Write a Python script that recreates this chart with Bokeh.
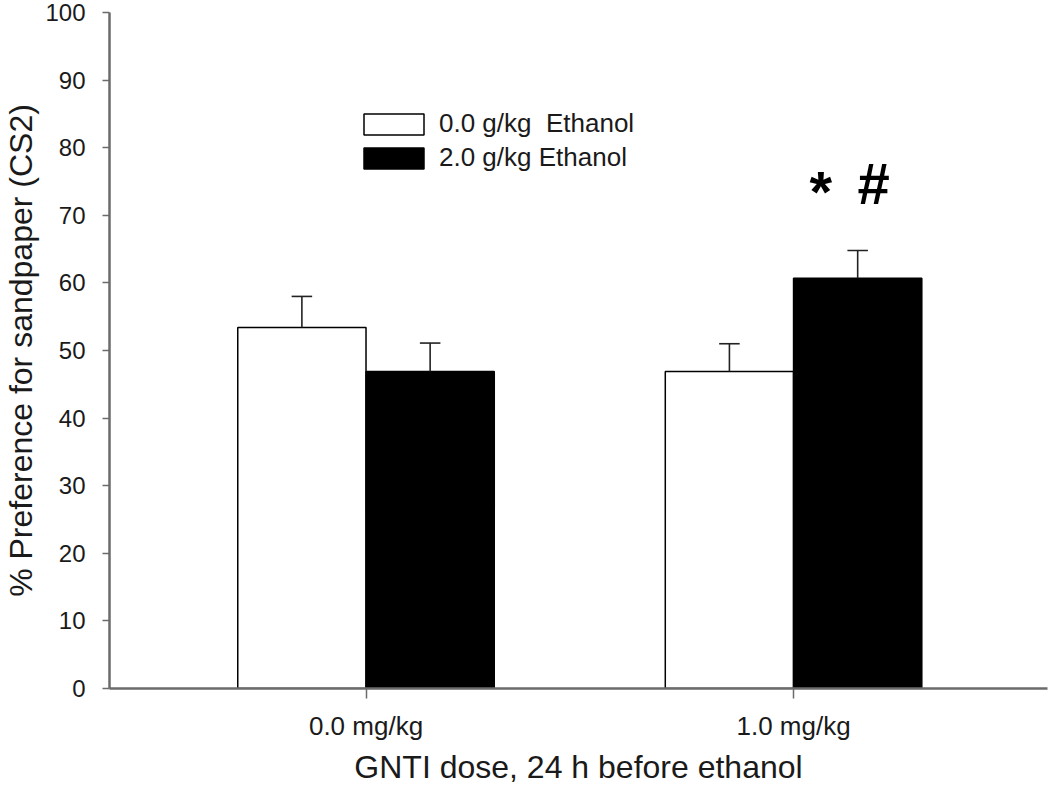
import numpy as np
from bokeh.plotting import figure
from bokeh.models import Range1d, FixedTicker, Legend, LegendItem, ColumnDataSource
from bokeh.core.properties import value
from bokeh.embed import file_html
from bokeh.resources import INLINE

# ---- data ----
doses = ["0.0 mg/kg", "1.0 mg/kg"]
series_names = ["0.0 g/kg  Ethanol", "2.0 g/kg Ethanol"]
white_vals = [53.4, 46.9]
white_err = [4.6, 4.1]
black_vals = [46.9, 60.7]
black_err = [4.2, 4.1]
y_ticks = [0, 10, 20, 30, 40, 50, 60, 70, 80, 90, 100]
sig_marks = ["*", "#"]
sig_group = 1
x_title = "GNTI dose, 24 h before ethanol"
y_title = "% Preference for sandpaper (CS2)"

FONT = "Liberation Sans"
AX = "#6b6b6b"
TXT = "#1a1a1a"

pos = np.arange(1, len(doses) + 1, dtype=float)
bw = 0.3
cap = 0.024

p = figure(width=1050, height=788, x_range=Range1d(0.4, 2.594), y_range=Range1d(0, 100),
           output_backend="svg", toolbar_location=None,
           min_border_left=107, min_border_right=3, min_border_top=12, min_border_bottom=100)
p.outline_line_color = None
p.xgrid.visible = False
p.ygrid.visible = False
p.background_fill_color = "white"
p.border_fill_color = "white"

def bars(vals, errs, shift, fill):
    xs = pos + shift
    src = ColumnDataSource(dict(x=xs, top=vals, up=np.array(vals) + np.array(errs),
                                cl=xs - cap, cr=xs + cap))
    r = p.vbar(x="x", top="top", width=bw, bottom=0, source=src, fill_color=fill,
               line_color="black", line_width=1.5)
    p.segment(x0="x", y0="top", x1="x", y1="up", source=src, line_color="#222222", line_width=1.6)
    p.segment(x0="cl", y0="up", x1="cr", y1="up", source=src, line_color="#222222", line_width=1.6)
    return r, src

r_white, s_white = bars(white_vals, white_err, -bw / 2, "white")
r_black, s_black = bars(black_vals, black_err, bw / 2, "black")

# significance marks over the 2.0 g/kg bar of the second dose group
bx = pos[sig_group] + bw / 2
btop = black_vals[sig_group] + black_err[sig_group]
p.text(x=[bx], y=[btop], text=[sig_marks[0]], x_offset=-37, y_offset=-59,
       text_font=value(FONT), text_font_size="58px", text_font_style="bold",
       text_align="center", text_baseline="alphabetic", text_color="black")
p.text(x=[bx], y=[btop], text=[sig_marks[1]], x_offset=16, y_offset=-67,
       text_font=value(FONT), text_font_size="58px", text_font_style="bold",
       text_align="center", text_baseline="alphabetic", text_color="black")

# axes
xa = p.xaxis[0]
xa.ticker = FixedTicker(ticks=list(pos))
xa.major_label_overrides = {float(v): d for v, d in zip(pos, doses)}
xa.major_label_overrides.update({int(v): d for v, d in zip(pos, doses)})
xa.minor_tick_line_color = None
xa.major_tick_in = 0
xa.major_tick_out = 10
xa.axis_line_color = AX
xa.axis_line_width = 2.5
xa.major_tick_line_color = AX
xa.major_tick_line_width = 1.5
xa.major_label_text_font = FONT
xa.major_label_text_font_size = "26px"
xa.major_label_text_color = TXT
xa.major_label_standoff = 12
xa.axis_label = x_title
xa.axis_label_text_font = FONT
xa.axis_label_text_font_size = "32px"
xa.axis_label_text_font_style = "normal"
xa.axis_label_text_color = TXT
xa.axis_label_standoff = 5

ya = p.yaxis[0]
ya.ticker = FixedTicker(ticks=y_ticks)
ya.minor_tick_line_color = None
ya.major_tick_in = 0
ya.major_tick_out = 7
ya.axis_line_color = AX
ya.axis_line_width = 2.5
ya.major_tick_line_color = AX
ya.major_tick_line_width = 1.5
ya.major_label_text_font = FONT
ya.major_label_text_font_size = "24px"
ya.major_label_text_color = TXT
ya.major_label_standoff = 17
ya.axis_label = y_title
ya.axis_label_text_font = FONT
ya.axis_label_text_font_size = "32px"
ya.axis_label_text_font_style = "normal"
ya.axis_label_text_color = TXT
ya.axis_label_standoff = 3

legend = Legend(items=[LegendItem(label=series_names[0], renderers=[r_white]),
                       LegendItem(label=series_names[1], renderers=[r_black])],
                location=(247, 515), orientation="vertical",
                glyph_width=75, glyph_height=26, label_standoff=8, spacing=3,
                padding=0, margin=0, label_height=21,
                label_text_font=FONT, label_text_font_size="26px", label_text_color=TXT,
                border_line_alpha=0, background_fill_alpha=0)
p.add_layout(legend)

open("out.html", "w").write(file_html(p, INLINE))
